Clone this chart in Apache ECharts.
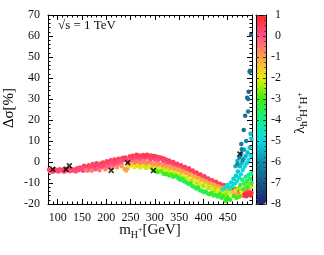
<!DOCTYPE html>
<html><head><meta charset="utf-8">
<script src="https://cdn.jsdelivr.net/npm/echarts@6/dist/echarts.min.js"></script>
<style>html,body{margin:0;padding:0;background:#fff}#c{width:324px;height:255px}</style>
</head><body><div id="c"></div>
<script>
// ---- data: [m_H+ (GeV), Δσ (%), λ] ----
const pinkPts = [
[82,-3.6,0.3],[84,-4.4,0.2],[87,-3.9,0.4],[90,-4.6,0.1],[93,-3.4,0.3],[95,-4.1,0.5],[98,-3.8,0.2],[101,-4.5,0.3],
[104,-3.5,0.4],[107,-4.2,0.1],[110,-3.7,0.3],[113,-4.6,0.2],[116,-3.2,0.5],[119,-4.0,0.2],[122,-3.5,0.3],[125,-4.4,0.1],
[128,-3.3,0.4],[131,-4.1,0.2],[134,-3.6,0.3],[137,-4.5,0.1],[140,-3.0,0.4],[143,-3.9,0.2],[146,-2.6,0.3],[149,-3.5,0.1],
[152,-4.2,0.2],[154,-1.8,0.4],[156,-3.0,0.2],[159,-2.3,0.3],[161,-4.0,0.1],[164,-1.5,0.5],[167,-2.8,0.2],[169,-3.6,0.0],
[172,-1.0,0.4],[175,-2.2,0.2],[177,-3.4,0.1],[180,-0.6,0.5],[183,-1.8,0.3],[185,-3.0,0.0],[188,-0.8,0.4],[191,-2.4,0.2],
[193,-0.2,0.5],[196,-1.4,0.3],[199,-2.8,0.0],[201,0.3,0.5],[204,-1.0,0.3],[207,-2.2,-0.1],[209,0.8,0.5],[212,-0.4,0.2],
[215,-1.6,0.0],[217,1.2,0.6],[220,0.0,0.3],[223,-1.2,0.0],[225,1.5,0.5],[228,0.4,0.2],[231,-0.8,-0.2],[233,1.9,0.5],
[236,0.8,0.3],[239,2.2,0.6],[242,1.2,0.3],[245,0.2,0.0],[248,2.6,0.5],[251,1.4,0.2],[254,3.0,0.6],[257,1.8,0.3],
[259,0.6,-0.1],[262,3.4,0.6],[265,2.0,0.3],[268,3.1,0.5],[270,1.0,0.0],[273,2.5,0.4],[276,3.3,0.6],[279,1.6,0.2],
[281,2.7,0.5],[284,3.4,0.6],[287,2.1,0.3],[290,0.9,0.0],[292,3.1,0.5],[295,1.9,0.3],[298,2.9,0.6],[300,1.2,0.1],
[303,2.6,0.5],[306,0.8,0.0],[309,2.3,0.4],[311,1.5,0.2],[314,2.0,0.5],[317,0.5,0.1],[320,1.6,0.4],[322,-0.2,0.0],
[325,1.0,0.4],[328,-0.6,0.1],[330,0.6,0.5],[333,-0.3,0.3],[336,-1.4,0.0],[338,0.0,0.5],[341,-1.0,0.3],[344,-2.1,0.0],
[346,-0.8,0.5],[349,-1.8,0.2],[352,-2.9,-0.1],[354,-1.5,0.5],[357,-2.6,0.2],[360,-3.6,0.0],[362,-2.4,0.5],[365,-3.4,0.2],
[368,-4.5,-0.1],[370,-3.0,0.5],[373,-4.2,0.3],[376,-5.4,0.0],[378,-4.0,0.5],[381,-5.1,0.2],[384,-6.3,0.0],[386,-5.0,0.5],
[389,-6.0,0.3],[392,-7.1,0.0],[394,-6.0,0.6],[397,-7.0,0.3],[400,-8.0,0.0],[402,-6.8,0.5],[405,-7.9,0.2],[408,-9.0,0.0],
[410,-7.8,0.5],[413,-8.8,0.3],[416,-9.8,0.0],[418,-8.7,0.6],[421,-9.6,0.3],[424,-10.6,0.1],[426,-9.4,0.5],[429,-10.4,0.3],
[432,-11.3,0.0],[434,-10.3,0.5],[437,-11.2,0.3],[440,-12.0,0.1],[442,-11.0,0.5],[445,-11.9,0.3],[448,-12.8,0.1],[450,-11.7,0.5],
[453,-12.6,0.3],[456,-13.4,0.2],[458,-12.4,0.5],[461,-13.3,0.4],[464,-14.0,0.6],[466,-12.8,0.3],[469,-14.6,0.7],[472,-13.4,0.4],
[474,-15.0,0.8],[477,-13.8,0.5],[480,-15.4,0.8],[482,-14.2,0.5],[485,-15.8,0.9],[487,-14.5,0.6],[490,-13.2,0.3],[492,-15.6,0.9],
[495,-14.3,0.6],[497,-16.0,0.9],[499,-14.8,0.7],[488,-16.3,0.8],[483,-16.0,0.9]
];
const orangePts = [
[158,-3.8,-0.5],[170,-4.2,-0.6],[186,-3.9,-0.5],[198,-3.6,-0.7],[212,-2.8,-0.6],[222,-2.5,-0.8],[232,-2.0,-0.9],[238,-3.4,-1.0],
[241,-4.0,-1.1],[244,-2.8,-0.9],[247,-1.2,-0.7],[250,-0.6,-0.6],[253,-0.2,-0.5],[256,-1.0,-0.8],[260,-0.8,-0.6],[263,0.0,-0.5],
[266,-1.5,-1.0],[270,-0.4,-0.6],[274,-1.2,-0.9],[278,0.2,-0.5],[282,-0.8,-0.8],[286,-0.2,-0.6],[290,-1.4,-1.0],[294,-0.6,-0.7],
[298,-1.6,-1.1],[302,-0.9,-0.8],[306,-1.8,-1.1],[310,-1.0,-0.7],[314,-2.2,-1.2],[318,-1.5,-0.8],[322,-2.6,-1.2],[326,-2.0,-0.9],
[330,-3.0,-1.3],[334,-2.5,-0.8],[338,-3.4,-1.2],[342,-3.0,-0.8],[346,-4.0,-1.3],[350,-3.6,-0.9],[354,-4.6,-1.3],[358,-4.4,-0.9],
[362,-5.4,-1.4],[366,-5.2,-1.0],[370,-6.2,-1.4],[374,-6.0,-1.0],[378,-7.0,-1.4],[382,-6.8,-1.0],[386,-7.8,-1.5],[390,-7.6,-1.0],
[394,-8.6,-1.4],[398,-8.4,-1.0],[402,-9.4,-1.5],[406,-9.2,-1.0],[410,-10.2,-1.4],[414,-10.0,-1.0],[418,-11.0,-1.5],[422,-10.8,-1.0],
[426,-11.8,-1.4],[430,-11.6,-1.0],[434,-12.5,-1.5],[438,-12.3,-1.0],[442,-13.2,-1.4],[446,-13.0,-0.9],[450,-13.8,-1.4],[455,-13.6,-0.9],
[460,-14.4,-1.3],[468,-15.2,-1.0],[476,-15.8,-1.2],[484,-13.0,-1.0],[494,-12.5,-1.1]
];
const yellowPts = [
[246,-2.0,-1.8],[252,-1.6,-1.7],[258,-2.4,-2.0],[264,-1.8,-1.8],[270,-2.6,-2.1],[276,-2.0,-1.9],[282,-2.8,-2.2],[288,-2.2,-1.9],
[293,-3.0,-2.3],[300,-3.0,-2.0],[304,-3.6,-2.4],[310,-3.2,-2.0],[316,-4.0,-2.4],[322,-4.2,-2.1],[328,-4.8,-2.4],[334,-5.0,-2.0],
[340,-5.6,-2.3],[346,-6.0,-2.0],[352,-6.6,-2.4],[358,-7.0,-2.0],[364,-7.8,-2.4],[370,-8.2,-2.0],[376,-9.0,-2.5],[382,-9.4,-2.0],
[388,-10.2,-2.4],[394,-10.6,-2.0],[400,-11.4,-2.5],[406,-11.8,-2.0],[412,-12.4,-2.4],[418,-12.8,-2.0],[424,-13.4,-2.4],[430,-13.6,-2.0],
[436,-14.2,-2.4],[442,-14.5,-2.1],[448,-15.0,-2.5],[454,-14.6,-2.1],[466,-13.6,-2.2],[472,-12.5,-2.5],[478,-14.0,-2.0],[486,-11.8,-2.3],
[493,-10.5,-2.6],[498,-12.0,-2.2]
];
const greenPts = [
[300,-4.0,-2.9],[306,-4.8,-3.1],[312,-4.4,-2.8],[318,-5.6,-3.2],[324,-5.8,-3.0],[330,-6.4,-3.3],[334,-6.0,-2.9],[338,-7.0,-3.4],
[343,-6.6,-3.0],[348,-7.6,-3.5],[352,-8.4,-3.6],[356,-8.0,-3.1],[360,-9.2,-3.6],[365,-9.8,-3.7],[369,-10.4,-3.5],[373,-10.2,-3.1],
[377,-11.4,-3.6],[381,-11.8,-3.3],[385,-12.6,-3.7],[389,-12.2,-3.2],[393,-13.4,-3.6],[397,-13.8,-3.3],[401,-14.4,-3.7],[405,-14.0,-3.2],
[409,-15.0,-3.6],[413,-15.4,-3.3],[417,-14.8,-3.0],[421,-16.0,-3.5],[425,-15.6,-3.1],[429,-16.4,-3.4],[433,-15.4,-3.0],[437,-17.0,-3.4],
[441,-16.2,-3.1],[445,-17.6,-3.3],[450,-16.8,-3.0],[455,-18.0,-3.2],[446,-18.6,-3.1],[476,-11.0,-3.5],[480,-8.5,-3.8],[484,-10.2,-3.3],
[487,-7.0,-4.0],[490,-9.0,-3.5],[493,-6.2,-4.1],[496,-8.0,-3.6],[498,-5.5,-4.0],[499,-10.0,-3.4],[491,-12.0,-3.2],[482,-12.8,-3.3],
[474,-16.5,-3.0],[462,-16.2,-3.1],[468,-17.2,-3.0]
];
const cyanPts = [
[440,-13.0,-4.6],[446,-12.0,-4.8],[450,-10.8,-5.0],[454,-12.6,-4.6],[457,-9.8,-5.1],[460,-11.4,-4.7],[462,-8.0,-5.2],[465,-10.2,-4.8],
[467,-6.5,-5.3],[469,-9.0,-4.9],[471,-4.5,-5.3],[473,-7.5,-4.9],[475,-2.0,-5.4],[477,-5.8,-5.0],[479,-0.5,-5.4],[481,-3.8,-5.0],
[483,1.5,-5.5],[485,-2.2,-5.0],[487,2.8,-5.5],[489,-0.6,-5.1],[491,4.5,-5.4],[493,1.0,-5.0],[495,6.8,-5.3],[497,3.0,-4.9],
[499,11.0,-5.2],[497,13.5,-5.4],[466,-2.0,-5.6],[470,0.5,-5.5],[478,4.0,-5.6],[484,5.8,-5.6]
];
const tealPts = [
[470,-1.0,-6.0],[474,2.2,-6.1],[478,8.6,-6.3],[479,6.1,-6.2],[483,15.2,-6.5],[486,22.0,-6.6],[490,30.6,-6.6],[492,30.0,-6.5],
[493,33.5,-6.7],[492,24.0,-6.3],[495,43.0,-6.7],[496,43.5,-6.6],[498,60.5,-6.8],[488,10.0,-6.1],[481,0.8,-6.0]
];
const crossPts = [[90,-3.5],[117,-3.5],[124,-1.8],[210,-4.0],[244,-0.3],[297,-4.1],[475,3.8]];

const xLabelVals = [100,150,200,250,300,350,400,450];
const xMajorTicks = [100,150,200,250,300,350,400,450,500];
const xMinorTicks = [80,90,110,120,130,140,160,170,180,190,210,220,230,240,260,270,280,290,310,320,330,340,360,370,380,390,410,420,430,440,460,470,480,490];
const yRange = [-20, 70];
const cbRange = [-8, 1];
const cbColors = ['#1f2478','#1b5688','#0e8ea6','#0adbe2','#12f08c','#3eee12','#e8ec12','#ffa04a','#ff4f88','#ff2a2a'];

const FONT = '"Liberation Serif","Times New Roman",serif';
const allPts = pinkPts.concat(orangePts, yellowPts, greenPts, cyanPts, tealPts);

const rich = {
  n: {fontFamily: FONT, fontSize: 15, lineHeight: 20, color: '#111'},
  sub: {fontFamily: FONT, fontSize: 10, lineHeight: 10, verticalAlign: 'bottom', color: '#111'},
  sp: {fontFamily: FONT, fontSize: 8, lineHeight: 10, verticalAlign: 'middle', color: '#111'},
  cs: {fontFamily: FONT, fontSize: 11, lineHeight: 11, verticalAlign: 'bottom', color: '#111'}
};

const line = {show: true, onZero: false, lineStyle: {color: '#000', width: 1}};
const chart = echarts.init(document.getElementById('c'), null, {renderer: 'canvas'});
chart.setOption({
  animation: false,
  backgroundColor: '#fff',
  grid: [
    {left: 48, top: 15, width: 204, height: 189},
    {left: 256, top: 15, width: 10, height: 189}
  ],
  xAxis: [
    {gridIndex: 0, type: 'value', position: 'bottom', min: 80, max: 500, axisLine: line,
     axisTick: {show: true, inside: true, length: 5, customValues: xMajorTicks, lineStyle: {color: '#000'}},
     axisLabel: {show: true, customValues: xLabelVals, margin: 8, fontFamily: FONT, fontSize: 12, color: '#111'},
     splitLine: {show: false},
     name: '{n|m}{sub|H}{sp|+}{n|[GeV]}', nameLocation: 'middle', nameGap: 16, nameMoveOverlap: false,
     nameTextStyle: {rich: rich}},
    {gridIndex: 0, type: 'value', position: 'bottom', min: 80, max: 500, axisLine: {show: false, onZero: false},
     axisTick: {show: true, inside: true, length: 2.5, customValues: xMinorTicks, lineStyle: {color: '#000'}},
     axisLabel: {show: false}, splitLine: {show: false}},
    {gridIndex: 0, type: 'value', position: 'top', min: 80, max: 500, axisLine: line,
     axisTick: {show: true, inside: true, length: 5, customValues: xMajorTicks, lineStyle: {color: '#000'}},
     axisLabel: {show: false}, splitLine: {show: false}},
    {gridIndex: 0, type: 'value', position: 'top', min: 80, max: 500, axisLine: {show: false, onZero: false},
     axisTick: {show: true, inside: true, length: 2.5, customValues: xMinorTicks, lineStyle: {color: '#000'}},
     axisLabel: {show: false}, splitLine: {show: false}},
    {gridIndex: 1, type: 'value', position: 'bottom', min: 0, max: 1, z: 10, axisLine: line,
     axisTick: {show: false}, axisLabel: {show: false}, splitLine: {show: false}},
    {gridIndex: 1, type: 'value', position: 'top', min: 0, max: 1, z: 10, axisLine: line,
     axisTick: {show: false}, axisLabel: {show: false}, splitLine: {show: false}}
  ],
  yAxis: [
    {gridIndex: 0, type: 'value', position: 'left', min: yRange[0], max: yRange[1], interval: 10, axisLine: line,
     axisTick: {show: true, inside: true, length: 5, lineStyle: {color: '#000'}},
     minorTick: {show: true, splitNumber: 5, length: 2.5, lineStyle: {color: '#000'}},
     axisLabel: {margin: 8, fontFamily: FONT, fontSize: 12, color: '#111'},
     splitLine: {show: false}, minorSplitLine: {show: false}},
    {gridIndex: 0, type: 'value', position: 'right', min: yRange[0], max: yRange[1], interval: 10, axisLine: line,
     axisTick: {show: true, inside: true, length: 5, lineStyle: {color: '#000'}},
     minorTick: {show: true, splitNumber: 5, length: 2.5, lineStyle: {color: '#000'}},
     axisLabel: {show: false}, splitLine: {show: false}, minorSplitLine: {show: false}},
    {gridIndex: 1, type: 'value', position: 'left', min: cbRange[0], max: cbRange[1], interval: 1, z: 10, axisLine: line,
     axisTick: {show: true, inside: true, length: 3, lineStyle: {color: '#333'}},
     minorTick: {show: true, splitNumber: 4, length: 1.5, lineStyle: {color: '#333'}},
     axisLabel: {show: false}, splitLine: {show: false}},
    {gridIndex: 1, type: 'value', position: 'right', min: cbRange[0], max: cbRange[1], interval: 1, z: 10, axisLine: line,
     axisTick: {show: true, inside: true, length: 3, lineStyle: {color: '#333'}},
     minorTick: {show: true, splitNumber: 4, length: 1.5, lineStyle: {color: '#333'}},
     axisLabel: {margin: 15, align: 'right', fontFamily: FONT, fontSize: 12, color: '#111'},
     splitLine: {show: false}}
  ],
  visualMap: {
    type: 'continuous', min: cbRange[0], max: cbRange[1], dimension: 2, seriesIndex: [0],
    left: 256, top: 15, itemWidth: 10, itemHeight: 189, padding: 0, calculable: false,
    hoverLink: false, text: null, inRange: {color: cbColors}
  },
  graphic: [
    {type: 'text', left: 58, top: 19, z: 20, style: {text: '√s = 1 TeV', fontFamily: FONT, fontSize: 13, fill: '#111'}},
    {type: 'text', x: 9, y: 108, rotation: Math.PI / 2, z: 20,
     style: {text: '{n|Δσ[%]}', rich: rich, align: 'center', verticalAlign: 'middle'}},
    {type: 'text', x: 300, y: 113, rotation: Math.PI / 2, z: 20,
     style: {text: '{n|λ}{cs|h}{sp|0}{cs|H}{sp|+}{cs|H}{sp|+}', rich: rich, align: 'center', verticalAlign: 'middle'}}
  ],
  series: [
    {type: 'scatter', xAxisIndex: 0, yAxisIndex: 0, data: allPts, symbolSize: 4.5, itemStyle: {opacity: 1}},
    {type: 'scatter', xAxisIndex: 0, yAxisIndex: 0, data: crossPts, symbolSize: 6, z: 5,
     symbol: 'path://M0,2L2,0L5,3L8,0L10,2L7,5L10,8L8,10L5,7L2,10L0,8L3,5Z', itemStyle: {color: '#000'}}
  ]
});
</script></body></html>
